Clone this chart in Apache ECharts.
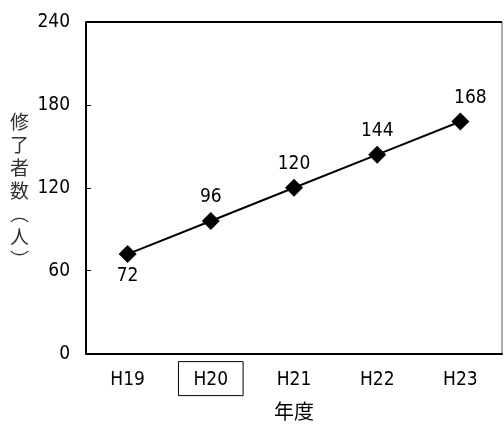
<!DOCTYPE html>
<html><head><meta charset="utf-8">
<script src="https://cdn.jsdelivr.net/npm/echarts@6/dist/echarts.min.js"></script>
<style>html,body{margin:0;padding:0;background:#fff}#c{width:504px;height:426px}</style>
</head><body><div id="c"></div>
<script>
const categories = ['H19','H20','H21','H22','H23'];
const values = [72, 96, 120, 144, 168];
const yTicks = [0, 60, 120, 180, 240];
const yTitle = '修\n了\n者\n数\n︵\n人\n︶';
const xTitle = '年度';
const boxedIndex = 1;

const FONT = '"DejaVu Sans Condensed","Noto Sans CJK JP",sans-serif';
const CJK = '"Noto Sans CJK JP",sans-serif';
const chart = echarts.init(document.getElementById('c'));
chart.setOption({
  animation: false,
  grid: {left: 86, right: 2, top: 22, bottom: 63, show: true, borderColor: '#555', borderWidth: 1},
  xAxis: {
    type: 'category', data: categories, boundaryGap: true,
    axisLine: {lineStyle: {color: '#000', width: 2}},
    axisTick: {inside: true, length: 5, lineStyle: {color: '#000'}},
    axisLabel: {
      interval: 0, margin: 8, fontSize: 19, color: '#000', fontFamily: FONT,
      formatter: (v, i) => i === boxedIndex ? '{b|' + v + '}' : '{n|' + v + '}',
      rich: {
        b: {fontSize: 19, fontFamily: FONT, color: '#000', borderColor: '#000', borderWidth: 1, padding: [9, 15, 6, 15]},
        n: {fontSize: 19, fontFamily: FONT, color: '#000', padding: [9, 15, 6, 15]}
      }
    },
    name: xTitle, nameLocation: 'middle', nameGap: 42,
    nameTextStyle: {fontSize: 20, color: '#000', fontFamily: CJK}
  },
  yAxis: {
    type: 'value', min: yTicks[0], max: yTicks[yTicks.length-1], interval: 60,
    axisLine: {show: true, lineStyle: {color: '#000', width: 2}},
    axisTick: {show: true, inside: true, length: 5, lineStyle: {color: '#000'}},
    splitLine: {show: false},
    axisLabel: {margin: 16, fontSize: 19, color: '#000', fontFamily: FONT}
  },
  graphic: [
    {type: 'line', shape: {x1: 86, y1: 22, x2: 502, y2: 22}, style: {stroke: '#000', lineWidth: 2}, z: 10},
    {type: 'text', left: 10, top: 110, style: {text: yTitle, fontSize: 19, lineHeight: 23, fill: '#333', fontFamily: CJK}}
  ],
  series: [{
    type: 'line', data: values.map((v, i) => ({
      value: v,
      label: i === 0 ? {position: 'bottom', distance: 3} : (i === values.length - 1 ? {offset: [10, 0]} : {})
    })),
    symbol: 'diamond', symbolSize: 18,
    itemStyle: {color: '#000'},
    lineStyle: {color: '#000', width: 2},
    label: {show: true, position: 'top', fontSize: 19, color: '#000', fontFamily: FONT, distance: 5}
  }]
});
</script></body></html>
